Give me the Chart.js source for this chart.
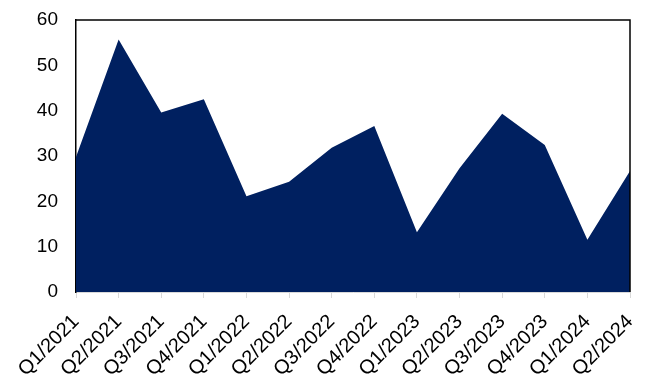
<!DOCTYPE html>
<html>
<head>
<meta charset="utf-8">
<script src="https://cdn.jsdelivr.net/npm/chart.js@4/dist/chart.umd.min.js"></script>
<style>
  html, body { margin: 0; padding: 0; background: #fff; }
  #wrap { width: 648px; height: 378px; }
</style>
</head>
<body>
<div id="wrap"><canvas id="myChart"></canvas></div>
<script>
const quarters = [
  'Q1/2021', 'Q2/2021', 'Q3/2021', 'Q4/2021',
  'Q1/2022', 'Q2/2022', 'Q3/2022', 'Q4/2022',
  'Q1/2023', 'Q2/2023', 'Q3/2023', 'Q4/2023',
  'Q1/2024', 'Q2/2024'
];
const values = [29.8, 55.7, 39.6, 42.5, 21.1, 24.3, 31.8, 36.6, 13.2, 27.3, 39.3, 32.4, 11.5, 26.7];
const yTicks = [0, 10, 20, 30, 40, 50, 60];

// frame on top and right of the plot area
const boxFrame = {
  id: 'boxFrame',
  afterDraw(chart) {
    const a = chart.chartArea;
    const ctx = chart.ctx;
    ctx.save();
    ctx.strokeStyle = '#000';
    ctx.lineWidth = 1.5;
    ctx.beginPath();
    ctx.moveTo(a.left, a.top);
    ctx.lineTo(a.right, a.top);
    ctx.lineTo(a.right, a.bottom);
    ctx.stroke();
    ctx.restore();
  }
};

const config = {
  type: 'line',
  data: {
    labels: quarters,
    datasets: [{
      data: values,
      backgroundColor: 'rgb(0, 32, 96)',
      borderColor: 'rgb(0, 32, 96)',
      borderWidth: 0,
      pointRadius: 0,
      fill: 'origin',
      tension: 0
    }]
  },
  options: {
    responsive: true,
    maintainAspectRatio: false,
    animation: false,
    layout: { padding: { top: 20, right: 18, left: 0, bottom: 0 } },
    plugins: { legend: { display: false }, tooltip: { enabled: false } },
    scales: {
      x: {
        offset: false,
        grid: { display: true, drawOnChartArea: false, drawTicks: true, tickLength: 6, color: '#d9d9d9' },
        border: { display: true, color: '#d9d9d9', width: 1 },
        ticks: {
          maxRotation: 45, minRotation: 45, autoSkip: false,
          color: '#000', padding: 12,
          font: { family: 'Liberation Sans', size: 20 }
        },
        afterFit(scale) {
          scale.height = 86;
          scale.paddingLeft = 0;
          scale.paddingRight = 0;
        }
      },
      y: {
        min: 0, max: 60,
        afterBuildTicks(scale) { scale.ticks = yTicks.map(v => ({ value: v })); },
        grid: { display: false, drawTicks: false },
        border: { display: true, color: '#000', width: 1.5 },
        ticks: {
          color: '#000', padding: 18,
          font: { family: 'Liberation Sans', size: 19 }
        },
        afterFit(scale) {
          scale.width = 76;
          scale.paddingTop = 0;
          scale.paddingBottom = 0;
        }
      }
    }
  },
  plugins: [boxFrame]
};

new Chart(document.getElementById('myChart'), config);
</script>
</body>
</html>
